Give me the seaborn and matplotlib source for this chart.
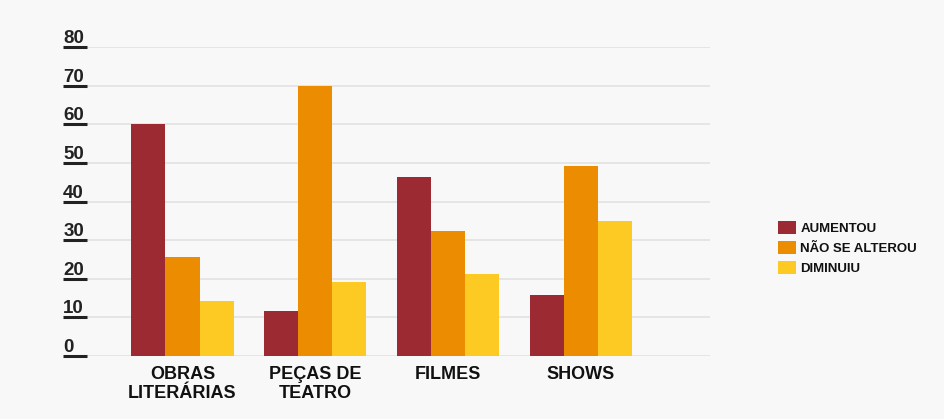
import pandas as pd
import matplotlib.pyplot as plt
import seaborn as sns

# Dados
categorias = ['OBRAS\nLITERÁRIAS', 'PEÇAS DE\nTEATRO', 'FILMES', 'SHOWS']
aumentou = [60, 11.6, 46.3, 15.8]
nao_alterou = [25.7, 70, 32.5, 49.1]
diminuiu = [14.2, 19.1, 21.2, 35]
series = ['AUMENTOU', 'NÃO SE ALTEROU', 'DIMINUIU']
cores = ['#9b2a33', '#ec8c00', '#fcca23']
yticks = [0, 10, 20, 30, 40, 50, 60, 70, 80]

df = pd.DataFrame({
    'categoria': categorias * 3,
    'serie': [series[0]] * 4 + [series[1]] * 4 + [series[2]] * 4,
    'valor': aumentou + nao_alterou + diminuiu,
})

sns.set_theme(style='whitegrid')
plt.rcParams['font.family'] = ['Liberation Sans', 'DejaVu Sans']
plt.rcParams['font.weight'] = 'bold'

fundo = '#f8f8f8'
fig = plt.figure(figsize=(9.44, 4.19), dpi=100, facecolor=fundo)
ax = fig.add_axes([0.092, 0.150, 0.660, 0.738])
ax.set_facecolor(fundo)

sns.barplot(data=df, x='categoria', y='valor', hue='serie', hue_order=series,
            palette=cores, width=0.77, saturation=1, linewidth=0,
            ax=ax, legend=True)

ax.set_ylim(0, 80)
ax.set_xlim(-0.72, 3.97)
ax.set_yticks(yticks)
ax.set_yticklabels([str(v) for v in yticks])
ax.grid(True, axis='y', color='#e2e2e2', linewidth=1.2)
ax.grid(False, axis='x')
for s in ax.spines.values():
    s.set_visible(False)
ax.set_xlabel('')
ax.set_ylabel('')

# rótulos do eixo y sublinhados (traço de tick) e acima da linha
ax.tick_params(axis='y', length=17, width=2.2, color='#222222', pad=0,
               labelsize=13.5, labelcolor='#222222', left=True)
for lab in ax.get_yticklabels():
    lab.set_horizontalalignment('left')
    lab.set_verticalalignment('bottom')
    lab.set_fontweight('bold')
ax.tick_params(axis='x', length=0, pad=7, labelsize=13, labelcolor='#111111')
for lab in ax.get_xticklabels():
    lab.set_fontweight('bold')

leg = ax.legend(loc='center left', bbox_to_anchor=(0.812, 0.408),
                bbox_transform=fig.transFigure, frameon=False,
                handlelength=1.3, handleheight=1.1, handletextpad=0.35,
                labelspacing=0.45, prop={'weight': 'bold', 'size': 9.5})
for t in leg.get_texts():
    t.set_color('#111111')

plt.savefig('out.png', dpi=100, facecolor=fundo)
